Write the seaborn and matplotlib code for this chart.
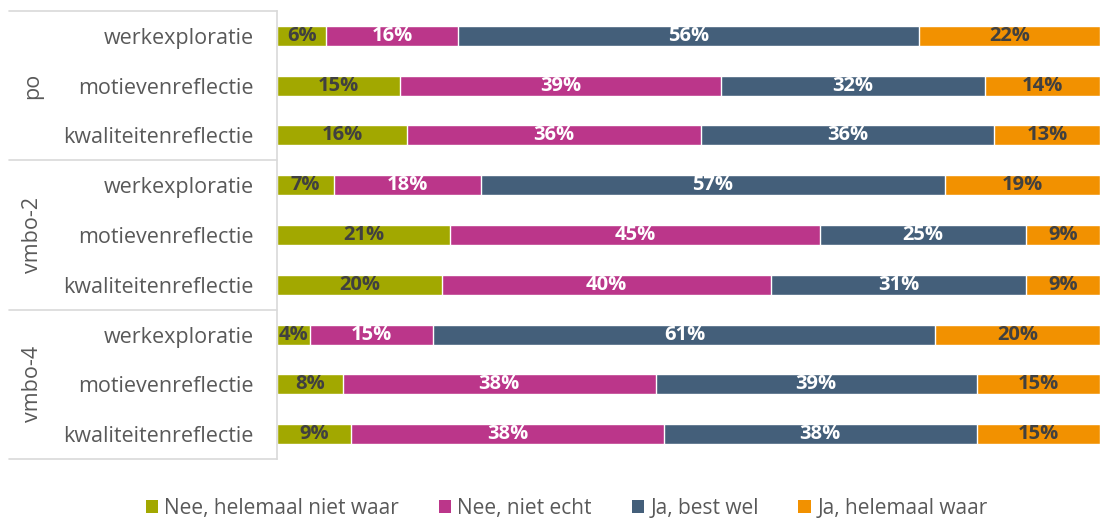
import numpy as np
import pandas as pd
import matplotlib.pyplot as plt
from matplotlib.patches import Patch
import seaborn as sns

# ============================
# Data
# ============================
groepen = ["po", "vmbo-2", "vmbo-4"]
onderdelen = ["werkexploratie", "motievenreflectie", "kwaliteitenreflectie"]
antwoorden = ["Nee, helemaal niet waar", "Nee, niet echt", "Ja, best wel", "Ja, helemaal waar"]

# per rij: po (werk, motieven, kwaliteiten), vmbo-2 (...), vmbo-4 (...)
nee_helemaal = [6, 15, 16, 7, 21, 20, 4, 8, 9]
nee_niet_echt = [16, 39, 36, 18, 45, 40, 15, 38, 38]
ja_best_wel = [56, 32, 36, 57, 25, 31, 61, 39, 38]
ja_helemaal = [22, 14, 13, 19, 9, 9, 20, 15, 15]

kleuren = ["#A2A800", "#BB368A", "#445F7A", "#F29100"]
tekstkleuren = ["#404040", "white", "white", "#404040"]
grijs = "#595959"
lijn = "#D9D9D9"

df = pd.DataFrame({
    "rij": [str(i) for i in range(9)],
    antwoorden[0]: nee_helemaal,
    antwoorden[1]: nee_niet_echt,
    antwoorden[2]: ja_best_wel,
    antwoorden[3]: ja_helemaal,
})

# 100% gestapeld
aandeel = df[antwoorden].div(df[antwoorden].sum(axis=1), axis=0) * 100
cum = aandeel.cumsum(axis=1)
for a in antwoorden:
    df["cum_" + a] = cum[a]

# ============================
# Figuur
# ============================
sns.set_style("white")
plt.rcParams["font.family"] = ["Open Sans", "DejaVu Sans"]

fig = plt.figure(figsize=(11, 5.19), dpi=100)
ax = fig.add_axes([277 / 1100, 1 - 459 / 519, 823 / 1100, 448 / 519])

# achterste (langste) balk eerst tekenen
for i in reversed(range(4)):
    sns.barplot(data=df, x="cum_" + antwoorden[i], y="rij", order=df["rij"],
                color=kleuren[i], saturation=1, width=0.4, errorbar=None,
                orient="h", ax=ax)

# percentages in de balken
for r in range(9):
    for i, a in enumerate(antwoorden):
        midden = cum.loc[r, a] - aandeel.loc[r, a] / 2
        ax.text(midden, r, f"{df.loc[r, a]}%", ha="center", va="center",
                fontsize=14.5, fontweight="bold", color=tekstkleuren[i])

ax.set_xlim(0, 100)
ax.set_ylim(8.5, -0.5)
ax.set_xlabel("")
ax.set_ylabel("")
ax.set_xticks([])
ax.set_yticks(range(9))
ax.set_yticklabels(onderdelen * 3, fontsize=15.5, color=grijs)
ax.tick_params(axis="y", length=0, pad=17)

for s in ["top", "right", "bottom"]:
    ax.spines[s].set_visible(False)
ax.spines["left"].set_color(lijn)
ax.spines["left"].set_linewidth(1.2)

# groepslabels en scheidingslijnen links
trans = ax.get_yaxis_transform()
for g, naam in enumerate(groepen):
    ax.text(-0.2965, g * 3 + 1, naam, transform=trans, rotation=90,
            ha="center", va="center", fontsize=15.5, color=grijs)
for y in [-0.5, 2.5, 5.5, 8.5]:
    ax.plot([-0.3256, 0], [y, y], transform=trans, clip_on=False,
            color=lijn, lw=1.2)

# legenda
handles = [Patch(facecolor=k, edgecolor="none") for k in kleuren]
fig.legend(handles, antwoorden, loc="center", bbox_to_anchor=(0.515, 0.02),
           ncol=4, frameon=False, fontsize=15, labelcolor=grijs,
           handlelength=0.6, handleheight=0.6, handletextpad=0.3,
           columnspacing=1.9)

plt.savefig("out.png", dpi=100)
